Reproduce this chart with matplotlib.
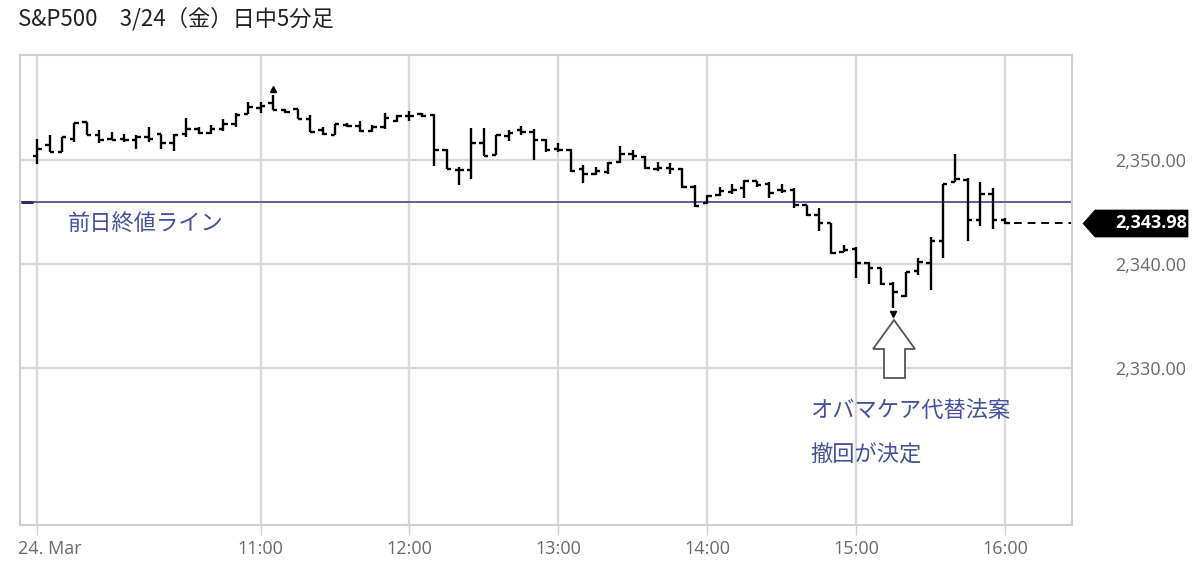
import numpy as np
import pandas as pd
import matplotlib
matplotlib.use("Agg")
import matplotlib.pyplot as plt
from matplotlib.patches import Polygon
from matplotlib.transforms import ScaledTranslation, offset_copy

# ---------------- data ----------------
title = "S&P500　3/24（金）日中5分足"
prev_close = 2345.96
last_close = 2343.98

opens = [2350.42, 2351.4, 2350.8, 2352.0, 2353.7, 2352.4, 2352.0, 2352.0, 2351.9, 2352.2,
         2352.5, 2351.6, 2352.5, 2353.0, 2352.6, 2353.0, 2353.5, 2354.4, 2355.0, 2355.5,
         2354.8, 2354.9, 2353.9, 2352.9, 2352.4, 2353.4, 2353.3, 2352.8, 2353.2, 2353.8,
         2354.2, 2354.4, 2354.3, 2351.0, 2349.0, 2349.05, 2351.6, 2350.5, 2352.3, 2352.9,
         2352.7, 2351.9, 2351.1, 2351.0, 2349.1, 2348.7, 2348.8, 2349.85, 2350.6, 2350.3,
         2349.1, 2349.2, 2349.1, 2347.45, 2345.9, 2346.6, 2346.9, 2347.3, 2348.0, 2347.7,
         2347.1, 2347.1, 2345.7, 2344.7, 2343.9, 2341.2, 2341.45, 2340.1, 2339.65, 2338.05,
         2336.95, 2339.3, 2340.1, 2342.2, 2347.85, 2348.1, 2344.2, 2346.7, 2344.2]
highs = [2352.0, 2352.4, 2352.2, 2353.6, 2353.7, 2352.9, 2352.7, 2352.5, 2352.4, 2353.2,
         2352.5, 2352.5, 2354.0, 2353.2, 2353.4, 2353.9, 2354.5, 2355.6, 2355.6, 2356.22,
         2354.9, 2354.9, 2354.3, 2353.2, 2353.5, 2353.6, 2353.75, 2353.4, 2354.5, 2354.3,
         2354.7, 2354.5, 2354.4, 2351.1, 2349.3, 2353.05, 2353.05, 2352.4, 2352.9, 2353.3,
         2352.95, 2352.0, 2351.6, 2351.1, 2349.5, 2349.35, 2349.85, 2351.35, 2350.95, 2350.4,
         2349.85, 2349.7, 2349.2, 2347.6, 2346.6, 2347.45, 2347.7, 2348.1, 2348.0, 2347.85,
         2347.7, 2347.3, 2345.7, 2345.4, 2343.9, 2341.8, 2341.65, 2340.2, 2339.65, 2338.3,
         2339.25, 2340.55, 2342.6, 2347.7, 2350.55, 2348.25, 2347.85, 2347.35, 2344.4]
lows = [2349.6, 2350.8, 2350.8, 2351.7, 2352.4, 2351.6, 2351.9, 2351.7, 2351.1, 2351.7,
        2351.1, 2350.9, 2352.2, 2352.5, 2352.5, 2352.8, 2353.2, 2354.4, 2354.5, 2354.8,
        2354.5, 2353.9, 2352.7, 2352.4, 2352.4, 2353.2, 2352.7, 2352.7, 2353.0, 2353.7,
        2353.8, 2354.1, 2349.45, 2349.1, 2347.6, 2348.2, 2350.4, 2350.5, 2351.8, 2352.4,
        2350.05, 2350.8, 2350.8, 2348.8, 2347.8, 2348.55, 2348.7, 2349.7, 2350.0, 2349.1,
        2348.95, 2348.7, 2347.3, 2345.5, 2345.75, 2346.5, 2346.7, 2346.3, 2347.4, 2346.3,
        2346.8, 2345.35, 2344.65, 2343.2, 2341.0, 2341.2, 2338.7, 2338.05, 2338.0, 2335.74,
        2336.85, 2338.95, 2337.5, 2340.55, 2347.85, 2342.25, 2343.7, 2343.35, 2343.8]
closes = [2351.1, 2350.8, 2352.2, 2353.6, 2352.4, 2351.9, 2351.9, 2351.9, 2352.2, 2352.0,
          2351.6, 2352.4, 2353.0, 2352.6, 2353.0, 2353.5, 2354.3, 2355.1, 2355.2, 2354.8,
          2354.6, 2353.9, 2352.7, 2352.5, 2353.5, 2353.3, 2352.8, 2353.2, 2354.0, 2354.2,
          2354.2, 2354.2, 2350.95, 2349.1, 2349.0, 2351.6, 2350.4, 2352.4, 2352.6, 2352.7,
          2351.9, 2351.0, 2351.0, 2348.9, 2348.7, 2348.9, 2349.7, 2350.6, 2350.4, 2349.2,
          2349.2, 2349.1, 2347.45, 2345.6, 2346.5, 2347.0, 2347.1, 2348.0, 2347.6, 2346.8,
          2347.0, 2345.7, 2344.7, 2343.9, 2341.1, 2341.3, 2340.1, 2339.65, 2338.05, 2337.3,
          2339.2, 2340.2, 2342.2, 2347.65, 2348.2, 2344.2, 2346.7, 2344.2, 2343.98]

start_time = "2017-03-24 09:30"
xtick_times = ["09:30", "11:00", "12:00", "13:00", "14:00", "15:00", "16:00"]
xtick_labels = ["24. Mar", "11:00", "12:00", "13:00", "14:00", "15:00", "16:00"]
ytick_values = [2330, 2340, 2350]
ytick_labels = ["2,330.00", "2,340.00", "2,350.00"]
line_label = "前日終値ライン"
note_lines = ["オバマケア代替法案", "撤回が決定"]

# ---------------- figure ----------------
JP = ["Noto Sans CJK JP", "DejaVu Sans"]
plt.rcParams["font.family"] = ["Open Sans", "Noto Sans CJK JP", "DejaVu Sans"]

W, H = 1200, 580
fig = plt.figure(figsize=(W / 100, H / 100), dpi=100)
fig.patch.set_facecolor("white")
L, R, T, B = 20, 1072, 55, 525
ax = fig.add_axes([L / W, 1 - B / H, (R - L) / W, (B - T) / H])

times = pd.date_range(start_time, periods=len(opens), freq="5min")
x = np.asarray(times.hour + times.minute / 60.0, dtype=float)
o = np.asarray(opens); h = np.asarray(highs); l = np.asarray(lows); c = np.asarray(closes)

def hrs(s):
    hh, mm = s.split(":")
    return int(hh) + int(mm) / 60.0

ax.set_xlim(9.3845, 16.4496)
ax.set_ylim(2314.90, 2360.10)

# grid
grid_c = "#d9d9d9"
ax.set_axisbelow(True)
ax.set_xticks([hrs(s) for s in xtick_times])
ax.set_xticklabels(xtick_labels)
ax.set_yticks(ytick_values)
ax.set_yticklabels(ytick_labels)
ax.grid(True, color=grid_c, lw=1.7)
for s in ax.spines.values():
    s.set_color("#cfcfcf")
    s.set_linewidth(1.5)

ax.yaxis.tick_right()
ax.tick_params(axis="y", length=0, pad=31, labelsize=13, labelcolor="#6a6a6a")
ax.tick_params(axis="x", length=7, width=1, color="#cfcfcf", pad=4,
               labelsize=13, labelcolor="#6a6a6a")
first = ax.get_xticklabels()[0]
first.set_ha("left")
first.set_transform(first.get_transform() + ScaledTranslation(-0.19, 0, fig.dpi_scale_trans))

# previous close line
ax.axhline(prev_close, color="#5b5f9c", lw=1.4, zorder=2)
ax.plot([9.39, 9.47], [prev_close, prev_close], color="#2b2f5c", lw=2.2, zorder=3,
        solid_capstyle="butt")

# OHLC bars
w = 0.03
ax.vlines(x, l, h, color="black", lw=1.7, zorder=4)
ax.hlines(o, x - w, x, color="black", lw=1.7, zorder=4)
ax.hlines(c, x, x + w, color="black", lw=1.7, zorder=4)

# day high / low markers
ih = int(np.argmax(h)); il = int(np.argmin(l))
ax.plot([x[ih]], [h[ih]], marker="^", ms=4.5, color="black", zorder=5,
        transform=offset_copy(ax.transData, fig=fig, y=6, units="dots"))
ax.plot([x[il]], [l[il]], marker="v", ms=4.5, color="black", zorder=5,
        transform=offset_copy(ax.transData, fig=fig, y=-6, units="dots"))

# last close dashed line
ax.hlines(last_close, x[-1] + 0.06, 16.44, color="black", lw=1.4,
          linestyles=(0, (4, 3)), zorder=4)

# current price label
pts = [(1083, 223.5), (1095, 210), (1188, 210), (1188, 237), (1095, 237)]
fig.patches.append(Polygon([(px / W, 1 - py / H) for px, py in pts], closed=True,
                           transform=fig.transFigure, facecolor="black",
                           edgecolor="black", lw=0.5))
fig.text(1187 / W, 1 - 223.5 / H, f"{last_close:,.2f}", color="white", fontsize=13,
         fontweight="bold", ha="right", va="center")

# hollow up arrow
arr = [(894, 320), (915, 349), (905, 349), (905, 378), (884, 378), (884, 349), (873, 349)]
fig.patches.append(Polygon([(px / W, 1 - py / H) for px, py in arr], closed=True,
                           transform=fig.transFigure, facecolor="white",
                           edgecolor="#555555", lw=1.3, zorder=6))

# texts
txt_c = "#46509c"
fig.text(18 / W, 1 - 19 / H, title, family=JP, fontsize=16, color="#222222",
         ha="left", va="center")
fig.text(68 / W, 1 - 223 / H, line_label, family=JP, fontsize=16, color=txt_c,
         ha="left", va="center")
fig.text(810 / W, 1 - 410 / H, note_lines[0], family=JP, fontsize=16, color=txt_c,
         ha="left", va="center")
fig.text(810 / W, 1 - 455 / H, note_lines[1], family=JP, fontsize=16, color=txt_c,
         ha="left", va="center")

fig.savefig("out.png", dpi=100, facecolor="white")
